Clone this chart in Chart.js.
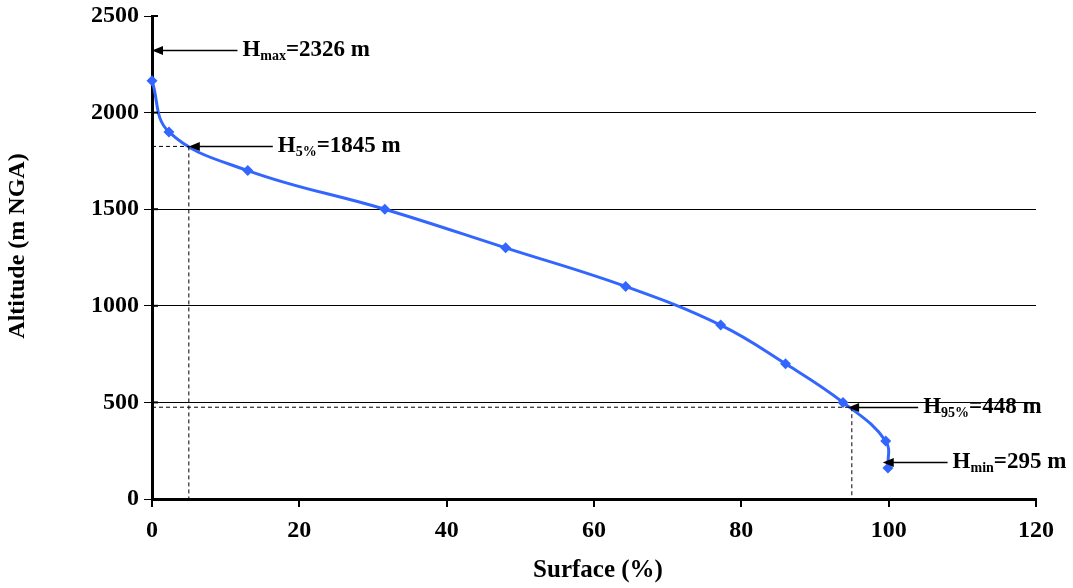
<!DOCTYPE html>
<html>
<head>
<meta charset="utf-8">
<script src="https://cdn.jsdelivr.net/npm/chart.js@4/dist/chart.umd.min.js"></script>
<style>
  html, body { margin: 0; padding: 0; background: #fff; }
  #wrap { width: 1073px; height: 588px; position: relative; }
</style>
</head>
<body>
<div id="wrap"><canvas id="hypso"></canvas></div>
<script>
// courbe hypsométrique
const surface = [0, 2.3, 13.0, 31.6, 48.0, 64.3, 77.2, 86.0, 93.8, 99.6, 99.9];
const altitude = [2165, 1900, 1700, 1500, 1300, 1100, 900, 700, 500, 300, 160];

const xTicks = [0, 20, 40, 60, 80, 100, 120];
const yTicks = [0, 500, 1000, 1500, 2000, 2500];

// annotations: H_sub = valeur
const noteSubs = ['max', '5%', '95%', 'min'];
const noteVals = ['2326', '1845', '448', '295'];
const noteY = [2326, 1825, 475, 193];
const noteTipX = [0, 5, 94.5, 99.2];
const noteTailX = [11.6, 16.4, 104.0, 108.0];

// lignes pointillées H5% et H95%
const guideX = [5, 95];
const guideY = [1825, 475];

const SERIF = '"Liberation Serif", "Times New Roman", serif';
const BLUE = '#3366ff';

const notesPlugin = {
    id: 'notes',
    afterDatasetsDraw(c) {
        const ctx = c.ctx, xs = c.scales.x, ys = c.scales.y;
        const x0 = xs.getPixelForValue(0), y0 = ys.getPixelForValue(0);
        ctx.save();

        // ticks qui traversent l'axe Y
        ctx.strokeStyle = '#000';
        ctx.lineWidth = 2;
        yTicks.forEach(v => {
            const py = ys.getPixelForValue(v);
            ctx.beginPath(); ctx.moveTo(x0, py); ctx.lineTo(x0 + 6, py); ctx.stroke();
        });

        // pointillés
        ctx.lineWidth = 1;
        ctx.setLineDash([4, 3]);
        guideX.forEach((gx, i) => {
            const px = xs.getPixelForValue(gx), py = ys.getPixelForValue(guideY[i]);
            ctx.beginPath();
            ctx.moveTo(x0, py); ctx.lineTo(px, py);
            ctx.moveTo(px, py); ctx.lineTo(px, y0);
            ctx.stroke();
        });
        ctx.setLineDash([]);

        // flèches + textes
        noteSubs.forEach((sub, i) => {
            const py = Math.round(ys.getPixelForValue(noteY[i])) + 0.5;
            const tip = xs.getPixelForValue(noteTipX[i]);
            const tail = xs.getPixelForValue(noteTailX[i]);
            ctx.strokeStyle = '#000';
            ctx.fillStyle = '#000';
            ctx.lineWidth = 1.5;
            ctx.beginPath(); ctx.moveTo(tip + 8, py); ctx.lineTo(tail, py); ctx.stroke();
            ctx.beginPath();
            ctx.moveTo(tip, py); ctx.lineTo(tip + 11, py - 4.5); ctx.lineTo(tip + 11, py + 4.5);
            ctx.closePath(); ctx.fill();

            let tx = tail + 5;
            const base = py + 5;
            ctx.textBaseline = 'alphabetic';
            ctx.textAlign = 'left';
            ctx.font = 'bold 23px ' + SERIF;
            ctx.fillText('H', tx, base);
            tx += ctx.measureText('H').width;
            ctx.font = 'bold 14px ' + SERIF;
            ctx.fillText(sub, tx, base + 4);
            tx += ctx.measureText(sub).width;
            ctx.font = 'bold 23px ' + SERIF;
            ctx.fillText('=' + noteVals[i] + ' m', tx, base);
        });

        // titres des axes
        ctx.font = 'bold 25px ' + SERIF;
        ctx.textAlign = 'center';
        ctx.textBaseline = 'middle';
        ctx.fillText('Surface (%)', 598, 571);
        ctx.font = 'bold 24px ' + SERIF;
        ctx.translate(18, 246);
        ctx.rotate(-Math.PI / 2);
        ctx.fillText('Altitude (m NGA)', 0, 0);
        ctx.restore();
    }
};

const chart = new Chart(document.getElementById('hypso'), {
    type: 'scatter',
    data: {
        datasets: [{
            data: surface.map((s, i) => ({ x: s, y: altitude[i] })),
            showLine: true,
            tension: 0.4,
            clip: false,
            borderColor: BLUE,
            backgroundColor: BLUE,
            borderWidth: 3,
            pointStyle: 'rectRot',
            pointRadius: 5.5,
            pointBorderWidth: 0
        }]
    },
    options: {
        responsive: true,
        maintainAspectRatio: false,
        animation: false,
        layout: { padding: { top: 16, right: 37, left: 0, bottom: 0 } },
        plugins: { legend: { display: false }, tooltip: { enabled: false } },
        scales: {
            x: {
                type: 'linear', min: 0, max: 120,
                afterFit: s => { s.height = 89; s.paddingLeft = 0; s.paddingRight = 0; },
                afterBuildTicks: s => { s.ticks = xTicks.map(v => ({ value: v })); },
                border: { color: '#000', width: 3 },
                grid: { drawOnChartArea: false, tickColor: '#000', tickLength: 8, lineWidth: 2 },
                ticks: { color: '#000', padding: 9, maxRotation: 0, callback: v => String(v),
                    font: { family: SERIF, size: 24, weight: 'bold' } }
            },
            y: {
                type: 'linear', min: 0, max: 2500,
                afterFit: s => { s.width = 152; s.paddingTop = 0; s.paddingBottom = 0; },
                afterBuildTicks: s => { s.ticks = yTicks.map(v => ({ value: v })); },
                border: { color: '#000', width: 3 },
                grid: {
                    color: ctx => (ctx.tick && ctx.tick.value > 0 && ctx.tick.value < 2500) ? '#000' : 'rgba(0,0,0,0)',
                    lineWidth: 1,
                    tickColor: '#000', tickLength: 8
                },
                ticks: { color: '#000', padding: 5, callback: v => String(v),
                    font: { family: SERIF, size: 24, weight: 'bold' } }
            }
        }
    },
    plugins: [notesPlugin]
});
</script>
</body>
</html>
